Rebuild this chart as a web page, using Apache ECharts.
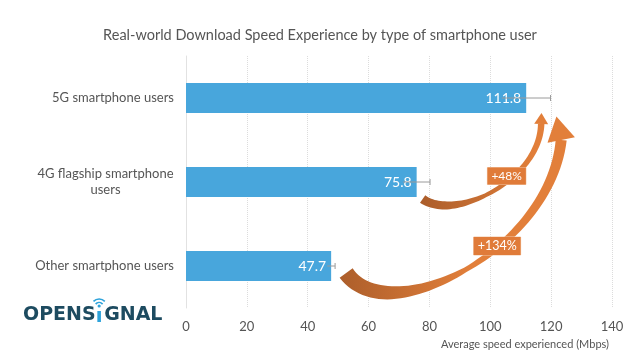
<!DOCTYPE html>
<html><head><meta charset="utf-8">
<script src="https://cdn.jsdelivr.net/npm/echarts@6/dist/echarts.min.js"></script>
<style>html,body{margin:0;padding:0;background:#fff}#c{width:640px;height:358px}</style>
</head><body><div id="c"></div>
<script>
const categories = ['5G smartphone users', '4G flagship smartphone\nusers', 'Other smartphone users'];
const speeds = [111.8, 75.8, 47.7];
const errLow = [103.8, 71.4, 46.4];
const errHigh = [119.8, 80.2, 49.0];
const xMin = 0, xMax = 140, xStep = 20;
const gainLabels = ['+48%', '+134%'];
const titleText = 'Real-world Download Speed Experience by type of smartphone user';
const axisName = 'Average speed experienced (Mbps)';
const logoText = ['OPENS', 'GNAL'];

const FONT = 'Lato';
const TXT = '#555555';
function measure(t, font) { const c = document.createElement('canvas').getContext('2d'); c.font = font; return c.measureText(t).width; }
const wrapW = Math.ceil(Math.max(...categories[1].split('\n').map(l => measure(l, '13px Lato'))));

const chart = echarts.init(document.getElementById('c'), null, { renderer: 'canvas' });
chart.setOption({
  animation: false,
  title: { text: titleText, left: 'center', top: 23,
    textStyle: { fontFamily: FONT, fontSize: 14.5, fontWeight: 'normal', color: TXT } },
  grid: { left: 186, right: 28, top: 56, bottom: 50 },
  xAxis: {
    type: 'value', min: xMin, max: xMax, interval: xStep,
    axisLine: { show: false }, axisTick: { show: false },
    axisLabel: { color: TXT, fontFamily: FONT, fontSize: 13, margin: 12 },
    splitLine: { lineStyle: { type: 'dotted', color: '#dcdcdc' } },
    name: axisName, nameLocation: 'end', nameGap: -3,
    nameTextStyle: { align: 'right', verticalAlign: 'top', padding: [31, 0, 0, 0], fontSize: 11, color: TXT, fontFamily: FONT }
  },
  yAxis: {
    type: 'category', data: categories, inverse: true,
    axisLine: { lineStyle: { color: '#e2e2e2' } }, axisTick: { show: false },
    axisLabel: {
      color: TXT, fontFamily: FONT, fontSize: 13, margin: 12,
      formatter: v => v.indexOf('\n') >= 0 ? v.split('\n').map(l => '{c|' + l + '}').join('\n') : v,
      rich: { c: { width: wrapW, align: 'center', fontSize: 13, fontFamily: FONT, color: TXT, lineHeight: 16 } }
    }
  },
  series: [
    { type: 'bar', data: speeds, barWidth: 30, itemStyle: { color: '#48a6dc' },
      label: { show: true, position: 'insideRight', color: '#fff', fontSize: 14, fontFamily: FONT } },
    { type: 'custom', z: 5,
      data: categories.map((c, i) => [i, errLow[i], errHigh[i]]),
      encode: { y: 0, x: [1, 2] },
      renderItem: function (params, api) {
        const y = api.value(0);
        const a = api.coord([api.value(1), y]);
        const b = api.coord([api.value(2), y]);
        const st = { stroke: '#9a9a9a', lineWidth: 1 };
        return { type: 'group', children: [
          { type: 'line', shape: { x1: a[0], y1: a[1], x2: b[0], y2: b[1] }, style: st },
          { type: 'line', shape: { x1: b[0], y1: b[1] - 3, x2: b[0], y2: b[1] + 3 }, style: st }
        ] };
      }
    }
  ]
});

// annotation arrows, anchored to the bar ends
const e5 = chart.convertToPixel({ gridIndex: 0 }, [speeds[0], 0]);
const e4 = chart.convertToPixel({ gridIndex: 0 }, [speeds[1], 1]);
const eO = chart.convertToPixel({ gridIndex: 0 }, [speeds[2], 2]);
const add = (p, dx, dy) => [p[0] + dx, p[1] + dy];

function bez(P0, C1, C2, P3, t) {
  const u = 1 - t;
  return [u*u*u*P0[0] + 3*u*u*t*C1[0] + 3*u*t*t*C2[0] + t*t*t*P3[0],
          u*u*u*P0[1] + 3*u*u*t*C1[1] + 3*u*t*t*C2[1] + t*t*t*P3[1]];
}
function dbez(P0, C1, C2, P3, t) {
  const u = 1 - t;
  return [3*u*u*(C1[0]-P0[0]) + 6*u*t*(C2[0]-C1[0]) + 3*t*t*(P3[0]-C2[0]),
          3*u*u*(C1[1]-P0[1]) + 6*u*t*(C2[1]-C1[1]) + 3*t*t*(P3[1]-C2[1])];
}
function arrow(P0, C1, C2, P3, wFn, headLen, headHalf, rot) {
  const N = 60, L = [], R = [];
  for (let i = 0; i <= N; i++) {
    const t = i / N, p = bez(P0, C1, C2, P3, t), d = dbez(P0, C1, C2, P3, t);
    const m = Math.hypot(d[0], d[1]) || 1, nx = -d[1] / m, ny = d[0] / m, w = wFn(t) / 2;
    L.push([p[0] + nx * w, p[1] + ny * w]); R.push([p[0] - nx * w, p[1] - ny * w]);
  }
  let dx = P3[0] - C2[0], dy = P3[1] - C2[1];
  const m = Math.hypot(dx, dy); dx /= m; dy /= m;
  const c = Math.cos(rot), s = Math.sin(rot);
  const rx = dx * c - dy * s, ry = dx * s + dy * c;
  const px = -ry, py = rx;
  const head = [[P3[0] + px * headHalf, P3[1] + py * headHalf],
                [P3[0] + rx * headLen, P3[1] + ry * headLen],
                [P3[0] - px * headHalf, P3[1] - py * headHalf]];
  return { shaft: L.concat(R.reverse()), head: head };
}
const BROWN = '#a95c2a', ORANGE = '#e27f3a';
function grad(x0, x1) {
  return new echarts.graphic.LinearGradient(x0, 0, x1, 0, [{ offset: 0, color: BROWN }, { offset: 1, color: ORANGE }], true);
}
const a1 = arrow(add(e4, 6, 17), add(e4, 38, 40), add(e4, 123, -2), add(e5, 15, 26),
  t => t < 0.2 ? 9 - 5 * t : t < 0.45 ? 8 - 4 * (t - 0.2) / 0.25 : 4 + 2.5 * (t - 0.45) / 0.55, 11, 7, 0);
const a2 = arrow(add(eO, 15, 7), add(eO, 57, 66), add(eO, 219, -16), add(e5, 35, 42),
  t => t < 0.2 ? 16 - 10 * t : t < 0.5 ? 14 - 9 * (t - 0.2) / 0.3 : 5 + 6 * (t - 0.5) / 0.5, 24, 14, -0.3);
const g1 = grad(e4[0], e4[0] + 120), g2 = grad(eO[0], eO[0] + 140);

// logo
const logoFont = 'bold 19px "DejaVu Sans"';
const w1 = measure(logoText[0], logoFont);
const lx = 23, ly = 315, ix = lx + w1 + 3.5;
const BLUE = '#2ea3db', TEAL = '#1d4b60';

chart.setOption({
  graphic: [
    { type: 'polygon', z: 10, shape: { points: a1.shaft }, style: { fill: g1 } },
    { type: 'polygon', z: 10, shape: { points: a1.head }, style: { fill: ORANGE } },
    { type: 'polygon', z: 10, shape: { points: a2.shaft }, style: { fill: g2 } },
    { type: 'polygon', z: 10, shape: { points: a2.head }, style: { fill: ORANGE } },
    { type: 'text', z: 20, x: e4[0] + 90, y: e4[1] - 6,
      style: { text: gainLabels[0], align: 'center', verticalAlign: 'middle', fill: '#fff', fontSize: 12, fontFamily: FONT,
        backgroundColor: '#e07b39', padding: [3, 4, 2, 4], borderColor: '#f3c9a9', borderWidth: 0.5 } },
    { type: 'text', z: 20, x: eO[0] + 166, y: eO[1] - 20,
      style: { text: gainLabels[1], align: 'center', verticalAlign: 'middle', fill: '#fff', fontSize: 12.5, fontFamily: FONT,
        backgroundColor: '#e07b39', padding: [3, 4, 2, 4], borderColor: '#f3c9a9', borderWidth: 0.5 } },
    { type: 'text', z: 20, x: lx, y: ly, style: { text: logoText[0], font: logoFont, fill: TEAL, verticalAlign: 'middle', align: 'left' } },
    { type: 'text', z: 20, x: ix + 5, y: ly, style: { text: logoText[1], font: logoFont, fill: TEAL, verticalAlign: 'middle', align: 'left' } },
    { type: 'rect', z: 20, shape: { x: ix - 1.8, y: ly - 4, width: 3.6, height: 11 }, style: { fill: BLUE } },
    { type: 'circle', z: 20, shape: { cx: ix, cy: ly - 9, r: 1.6 }, style: { fill: BLUE } },
    { type: 'arc', z: 20, shape: { cx: ix, cy: ly - 8, r: 4.5, startAngle: -Math.PI * 0.78, endAngle: -Math.PI * 0.22, clockwise: true }, style: { stroke: BLUE, lineWidth: 1.6, fill: null } },
    { type: 'arc', z: 20, shape: { cx: ix, cy: ly - 8, r: 8, startAngle: -Math.PI * 0.75, endAngle: -Math.PI * 0.25, clockwise: true }, style: { stroke: BLUE, lineWidth: 1.6, fill: null } }
  ]
});
</script></body></html>
